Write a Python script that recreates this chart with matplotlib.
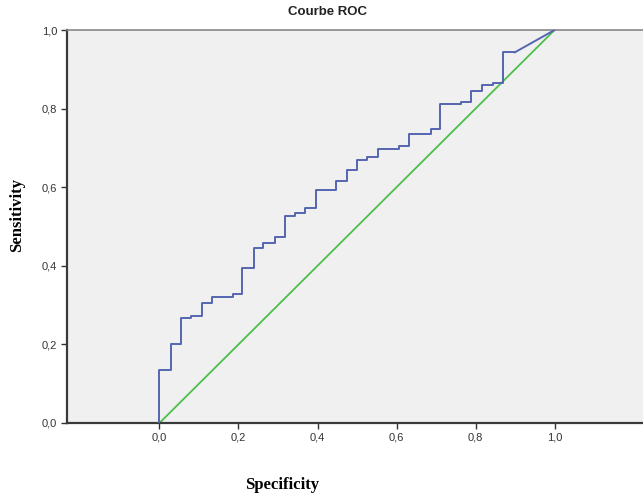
import matplotlib
matplotlib.use("Agg")
import matplotlib.pyplot as plt
from matplotlib.ticker import FuncFormatter

# ROC step corners (x = 1 - specificity, shown as "Specificity"; y = sensitivity)
roc_x = [0.000, 0.000, 0.028, 0.055, 0.080, 0.107, 0.134, 0.185, 0.210, 0.238,
         0.263, 0.292, 0.317, 0.343, 0.368, 0.396, 0.448, 0.475, 0.500, 0.525,
         0.552, 0.607, 0.632, 0.686, 0.711, 0.764, 0.789, 0.817, 0.843, 0.870,
         0.899]
roc_y = [0.000, 0.135, 0.200, 0.267, 0.273, 0.306, 0.320, 0.327, 0.394, 0.445,
         0.459, 0.474, 0.527, 0.535, 0.548, 0.593, 0.616, 0.644, 0.669, 0.676,
         0.697, 0.705, 0.735, 0.747, 0.811, 0.816, 0.845, 0.860, 0.866, 0.943,
         0.943]
end_x = [0.899, 1.0]
end_y = [0.943, 1.0]
ref_x = [0.0, 1.0]
ref_y = [0.0, 1.0]
ticks = [0.0, 0.2, 0.4, 0.6, 0.8, 1.0]

W, H = 643, 496
fig = plt.figure(figsize=(W / 100, H / 100), dpi=100)
fig.patch.set_facecolor("white")
ax = fig.add_axes([67 / W, 1 - 423 / H, 1 - 67 / W + 0.01, (423 - 30) / H])
ax.set_facecolor("#F0F0F0")

blue = "#5566B0"
green = "#4DBE4D"
ax.plot(ref_x, ref_y, color=green, lw=1.3, zorder=2)
ax.plot(roc_x, roc_y, drawstyle="steps-post", color=blue, lw=1.4, zorder=3)
ax.plot(end_x, end_y, color=blue, lw=1.4, zorder=3)

ax.set_xlim(-0.234, 1.24)
ax.set_ylim(0, 1.0)
ax.set_xticks(ticks)
ax.set_yticks(ticks)
fmt = FuncFormatter(lambda v, p: f"{v:.1f}".replace(".", ","))
ax.xaxis.set_major_formatter(fmt)
ax.yaxis.set_major_formatter(fmt)
for lab in ax.get_xticklabels() + ax.get_yticklabels():
    lab.set_fontfamily("Liberation Sans")
    lab.set_fontsize(8)
    lab.set_color("#333333")
ax.tick_params(direction="out", length=4, width=1, color="#333333", pad=3)

for s in ["left", "bottom"]:
    ax.spines[s].set_linewidth(1.6)
    ax.spines[s].set_color("#3a3a3a")
ax.spines["top"].set_linewidth(1.2)
ax.spines["top"].set_color("#888888")
ax.spines["right"].set_visible(False)

fig.text(327 / W, 1 - 12 / H, "Courbe ROC", ha="center", va="center",
         fontsize=9.5, fontweight="bold", fontfamily="Liberation Sans", color="#222222")
fig.text(282 / W, 1 - 485 / H, "Specificity", ha="center", va="center",
         fontsize=12, fontweight="bold", fontfamily="Liberation Serif")
fig.text(17 / W, 1 - 215 / H, "Sensitivity", ha="center", va="center",
         rotation=90, fontsize=12, fontweight="bold", fontfamily="Liberation Serif")

fig.savefig("out.png", dpi=100)
